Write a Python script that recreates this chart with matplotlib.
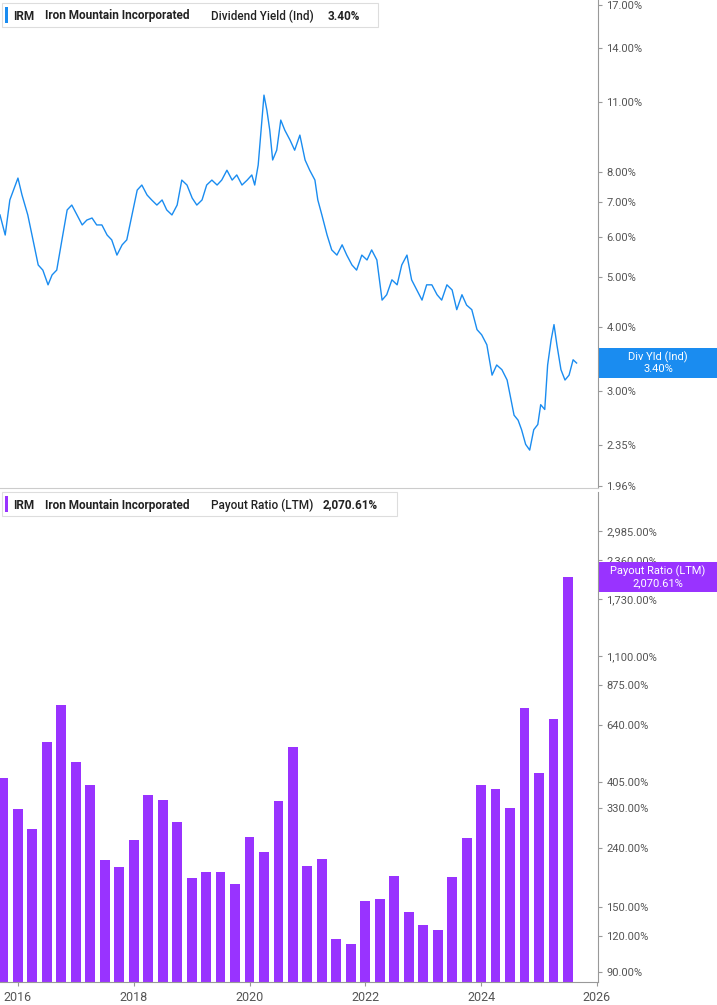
import matplotlib
matplotlib.use("Agg")
import matplotlib.pyplot as plt
import numpy as np
from matplotlib.patches import Rectangle

plt.rcParams["font.family"] = "Roboto"

yield_dates = [2015.69,2015.78,2015.86,2016.00,2016.07,2016.17,2016.26,2016.35,2016.43,2016.52,2016.59,2016.67,2016.76,2016.85,2016.93,
2017.02,2017.11,2017.19,2017.28,2017.36,2017.45,2017.54,2017.62,2017.71,2017.80,2017.88,2017.97,2018.06,2018.14,2018.23,2018.31,2018.40,
2018.49,2018.57,2018.66,2018.75,2018.83,2018.92,2019.01,2019.09,2019.18,2019.26,2019.35,2019.44,2019.52,2019.61,2019.70,2019.78,2019.87,
2019.96,2020.04,2020.09,2020.15,2020.20,2020.25,2020.30,2020.35,2020.40,2020.47,2020.54,2020.61,2020.70,2020.78,2020.87,2020.96,2021.04,
2021.13,2021.18,2021.25,2021.34,2021.42,2021.51,2021.60,2021.68,2021.77,2021.85,2021.94,2022.03,2022.11,2022.20,2022.29,2022.37,2022.46,
2022.55,2022.63,2022.72,2022.80,2022.89,2022.98,2023.06,2023.15,2023.24,2023.32,2023.41,2023.50,2023.58,2023.67,2023.75,2023.84,2023.93,
2024.01,2024.10,2024.19,2024.27,2024.36,2024.45,2024.50,2024.57,2024.64,2024.70,2024.77,2024.84,2024.91,2024.98,2025.03,2025.10,2025.15,
2025.21,2025.26,2025.31,2025.38,2025.45,2025.52,2025.59,2025.65]
yield_vals = [6.61,6.04,7.07,7.80,7.23,6.61,5.91,5.28,5.16,4.83,5.05,5.16,5.91,6.76,6.91,
6.61,6.32,6.46,6.52,6.32,6.32,6.04,5.91,5.52,5.78,5.91,6.61,7.39,7.56,7.23,7.07,6.91,
7.07,6.76,6.61,6.91,7.73,7.56,7.13,6.91,7.07,7.56,7.73,7.56,7.73,8.08,7.73,7.91,7.56,
7.73,7.91,7.56,8.27,9.67,11.32,10.58,9.67,8.46,8.84,10.12,9.67,9.25,8.84,9.46,8.46,8.08,
7.73,7.07,6.61,6.04,5.65,5.52,5.78,5.52,5.28,5.16,5.52,5.40,5.65,5.40,4.51,4.62,4.94,
4.83,5.28,5.52,4.94,4.72,4.51,4.83,4.83,4.62,4.51,4.83,4.72,4.32,4.62,4.41,4.32,3.95,
3.86,3.69,3.22,3.37,3.30,3.15,2.95,2.69,2.63,2.52,2.36,2.30,2.52,2.58,2.82,2.76,3.37,
3.77,4.04,3.69,3.30,3.15,3.22,3.45,3.40]

payout_dates = [2015.75 + 0.25 * i for i in range(40)]
payout_vals = [420,327,280,560,750,477,397,219,207,257,367,352,296,189,198,199,180,263,233,350,
537,209,221,117,112,158,161,193,145,130,125,191,260,397,385,330,732,437,670,2070]

yticks_top = [17,14,11,8,7,6,5,4,3,2.35,1.96]
yticks_bot = [2985,2360,1730,1100,875,640,405,330,240,150,120,90]
xticks = [2016,2018,2020,2022,2024,2026]

BLUE = "#1a8cf0"
PURPLE = "#9933ff"
GRAY = "#555555"
SPINE = "#999999"

fig = plt.figure(figsize=(7.17, 10.05), dpi=100)
W = 598/717
ax1 = fig.add_axes([0, 1-488/1005, W, 488/1005])
ax2 = fig.add_axes([0, 1-982/1005, W, 490/1005])

xlim = (2015.69, 2026.02)
for ax in (ax1, ax2):
    ax.set_xlim(*xlim)
    ax.set_yscale("log")
    ax.yaxis.tick_right()
    ax.minorticks_off()
    for s in ("left", "top"):
        ax.spines[s].set_visible(False)
    ax.spines["right"].set_color(SPINE)
    ax.spines["bottom"].set_color("#cccccc")
    ax.tick_params(axis="y", colors=GRAY, labelsize=8, length=3, pad=3, color=SPINE)
    ax.tick_params(axis="x", colors=GRAY, labelsize=9, length=3, color=SPINE)

ax1.plot(yield_dates, yield_vals, color=BLUE, lw=1.0)
ax1.set_ylim(1.94, 17.35)
ax1.set_yticks(yticks_top)
ax1.set_yticklabels([f"{v:.2f}%" for v in yticks_top])
ax1.set_xticks([])

ax2.bar(payout_dates, payout_vals, width=0.17, color=PURPLE)
ax2.set_ylim(83, 4060)
ax2.set_yticks(yticks_bot)
ax2.set_yticklabels([f"{v:,.2f}%" for v in yticks_bot])
ax2.set_xticks(xticks)
ax2.set_xticklabels([str(x) for x in xticks])
ax2.spines["bottom"].set_color(SPINE)

# legends
def legend(y_px, color, parts, box_w):
    y = 1 - y_px/1005
    fig.patches.append(Rectangle((2/717, y-11/1005), box_w/717, 24/1005, transform=fig.transFigure,
                                 facecolor="white", edgecolor="#dddddd", lw=0.8))
    fig.patches.append(Rectangle((5/717, y-7/1005), 3/717, 16/1005, transform=fig.transFigure,
                                 facecolor=color, edgecolor="none"))
    x = 13
    for txt, bold, dx in parts:
        fig.text(x/717, y, txt, fontsize=8.5, fontweight="bold" if bold else "medium",
                 color="#222222", va="center")
        x += dx
legend(16, BLUE, [("IRM", True, 32), ("Iron Mountain Incorporated", True, 166),
                  ("Dividend Yield (Ind)", False, 117), ("3.40%", True, 0)], 376)
legend(505, PURPLE, [("IRM", True, 32), ("Iron Mountain Incorporated", True, 166),
                     ("Payout Ratio (LTM)", False, 112), ("2,070.61%", True, 0)], 395)

# right value boxes
def vbox(y_top, color, l1, l2):
    fig.patches.append(Rectangle((599/717, 1-(y_top+30)/1005), 118/717, 30/1005,
                                 transform=fig.transFigure, facecolor=color, edgecolor="none"))
    fig.text(658/717, 1-(y_top+9)/1005, l1, color="white", fontsize=8, ha="center", va="center")
    fig.text(658/717, 1-(y_top+21)/1005, l2, color="white", fontsize=8, ha="center", va="center")
vbox(348, BLUE, "Div Yld (Ind)", "3.40%")
vbox(562, PURPLE, "Payout Ratio (LTM)", "2,070.61%")

fig.savefig("out.png", dpi=100)
